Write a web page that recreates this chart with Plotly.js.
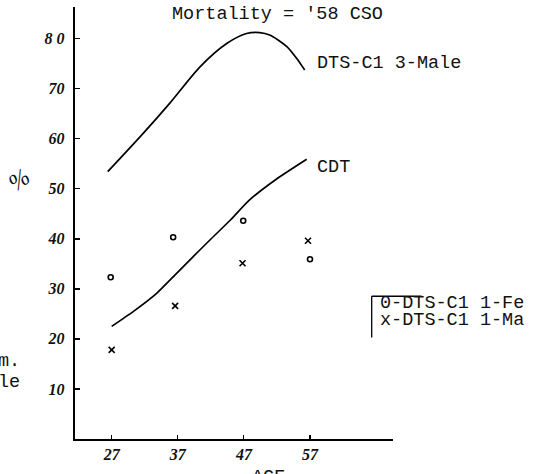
<!DOCTYPE html>
<html>
<head>
<meta charset="utf-8">
<script src="https://cdn.plot.ly/plotly-3.0.1.min.js"></script>
<style>
  html, body { margin: 0; padding: 0; background: #fff; }
  #chart { width: 535px; height: 474px; }
</style>
</head>
<body>
<div id="chart"></div>
<script>
// Tick positions and labels
const ageTicks = [27, 37, 47, 57];
const ageTickText = ["27", "37", "47", "57"];
const pctTicks = [10, 20, 30, 40, 50, 60, 70, 80];
const pctTickText = ["10", "20", "30", "40", "50", "60", "70", "8 0"];

// DTS-C1 3-Male curve
const dts3Age = [26.4, 31.8, 35.8, 40.4, 44.4, 47.4, 49.4, 50.9, 53.5, 55.0, 56.2];
const dts3Val = [53.4, 61.1, 67.1, 74.4, 79.0, 81.0, 81.2, 80.7, 78.4, 76.0, 73.7];

// CDT curve
const cdtAge = [27.0, 30.3, 33.8, 36.6, 39.3, 41.9, 45.0, 47.9, 52.0, 56.5];
const cdtVal = [22.5, 25.5, 29.1, 32.8, 36.4, 39.8, 43.8, 47.8, 52.0, 55.9];

// DTS-C1 1 points: o = Female, x = Male
const femAge = [26.85, 36.3, 46.9, 57.0];
const femVal = [32.3, 40.3, 43.6, 35.9];
const maleAge = [27.0, 36.6, 46.8, 56.7];
const maleVal = [17.8, 26.6, 35.1, 39.6];

const mono = "Liberation Mono, Courier New, monospace";
const hand = {family: "Liberation Serif, serif", size: 16, color: "#111", style: "italic", weight: 700};

const traces = [
  {x: dts3Age, y: dts3Val, mode: "lines", line: {color: "#000", width: 1.7, shape: "spline", smoothing: 0.8}, hoverinfo: "skip"},
  {x: cdtAge, y: cdtVal, mode: "lines", line: {color: "#000", width: 1.7, shape: "spline", smoothing: 0.6}, hoverinfo: "skip"},
  {x: femAge, y: femVal, mode: "markers", marker: {symbol: "circle-open", size: 5, color: "#000", line: {width: 1.6, color: "#000"}}},
  {x: maleAge, y: maleVal, mode: "markers", marker: {symbol: "x-thin-open", size: 6, color: "#000", line: {width: 1.6, color: "#000"}}}
];

const layout = {
  width: 535, height: 474,
  margin: {l: 75, r: 142, t: 7, b: 35},
  paper_bgcolor: "#fff", plot_bgcolor: "#fff",
  showlegend: false,
  xaxis: {
    range: [21.45, 69.56], tickvals: ageTicks, ticktext: ageTickText,
    showline: true, linecolor: "#000", linewidth: 2, mirror: false,
    ticks: "inside", ticklen: 4, tickwidth: 1.2, tickcolor: "#000",
    showgrid: false, zeroline: false, tickfont: hand, ticklabelstandoff: 0
  },
  yaxis: {
    range: [0, 86.3], tickvals: pctTicks, ticktext: pctTickText,
    showline: true, linecolor: "#000", linewidth: 2.2,
    ticks: "inside", ticklen: 5, tickwidth: 1.5, tickcolor: "#000",
    showgrid: false, zeroline: false, tickfont: hand, ticklabelstandoff: 5
  },
  annotations: [
    {xref: "paper", yref: "paper", x: 0.638, y: 0.9815, text: "Mortality = '58 CSO", showarrow: false,
     xanchor: "center", yanchor: "middle", font: {family: mono, size: 18.5, color: "#111"}},
    {xref: "x", yref: "y", x: 57.75, y: 75.1, text: "DTS-C1 3-Male", showarrow: false,
     xanchor: "left", yanchor: "middle", font: {family: mono, size: 18.5, color: "#111"}},
    {xref: "x", yref: "y", x: 57.75, y: 54.2, text: "CDT", showarrow: false,
     xanchor: "left", yanchor: "middle", font: {family: mono, size: 18.5, color: "#111"}},
    {xref: "paper", yref: "paper", x: 0.9528, y: 0.3146, text: "0-DTS-C1 1-Fe", showarrow: false,
     xanchor: "left", yanchor: "middle", font: {family: mono, size: 18.5, color: "#111"}},
    {xref: "paper", yref: "paper", x: 0.9528, y: 0.2737, text: "x-DTS-C1 1-Ma", showarrow: false,
     xanchor: "left", yanchor: "middle", font: {family: mono, size: 18.5, color: "#111"}},
    {xref: "paper", yref: "paper", x: 0.607, y: -0.06, text: "AGE", showarrow: false,
     xanchor: "center", yanchor: "top", font: {family: mono, size: 18.5, color: "#111"}},
    {xref: "paper", yref: "paper", x: -0.177, y: 0.6, text: "%", textangle: -35, showarrow: false,
     xanchor: "center", yanchor: "middle", font: {family: "Liberation Serif, serif", size: 24, color: "#111", style: "italic"}},
    {xref: "paper", yref: "paper", x: -0.166, y: 0.18, text: "m.", showarrow: false,
     xanchor: "right", yanchor: "middle", font: {family: mono, size: 18.5, color: "#111"}},
    {xref: "paper", yref: "paper", x: -0.166, y: 0.13, text: "le", showarrow: false,
     xanchor: "right", yanchor: "middle", font: {family: mono, size: 18.5, color: "#111"}}
  ],
  shapes: [
    {type: "line", xref: "paper", yref: "paper", x0: 0.933, x1: 0.933, y0: 0.3304, y1: 0.2349, line: {color: "#000", width: 1.3}},
    {type: "line", xref: "paper", yref: "paper", x0: 0.933, x1: 1.090, y0: 0.3304, y1: 0.3304, line: {color: "#000", width: 1.6}}
  ]
};

Plotly.newPlot("chart", traces, layout, {displayModeBar: false, staticPlot: true});
</script>
</body>
</html>
